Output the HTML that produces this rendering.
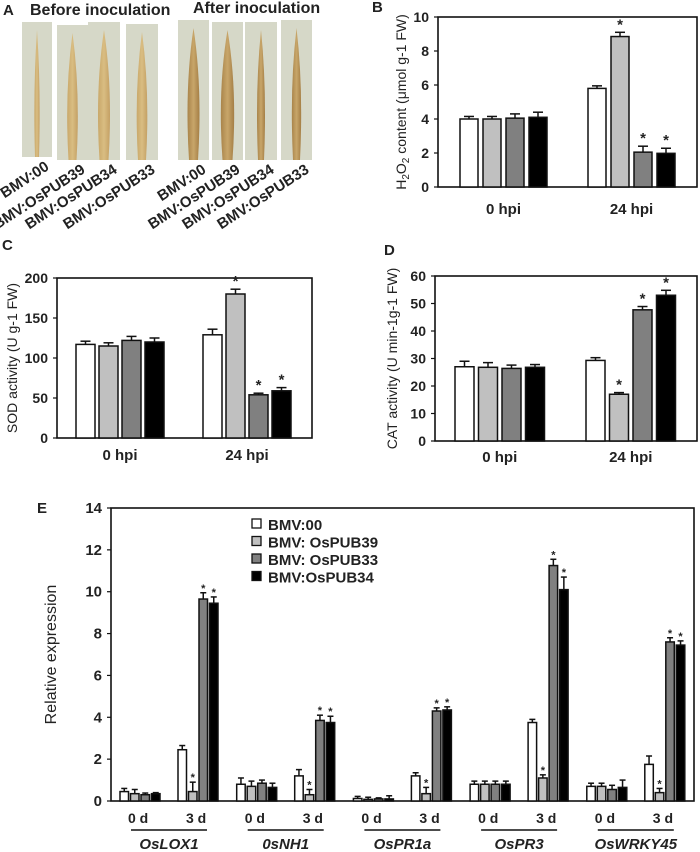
<!DOCTYPE html>
<html><head><meta charset="utf-8"><style>
html,body{margin:0;padding:0;background:#fff;}
svg{display:block;font-family:"Liberation Sans",Arial,sans-serif;}
</style></head><body>
<svg id="fig" width="700" height="852" viewBox="0 0 700 852" xmlns="http://www.w3.org/2000/svg">
<defs>
<linearGradient id="leafA" x1="0" x2="1"><stop offset="0" stop-color="#c9a86a"/><stop offset="0.5" stop-color="#d9bd82"/><stop offset="1" stop-color="#c4a064"/></linearGradient>
<linearGradient id="leafB" x1="0" x2="1"><stop offset="0" stop-color="#a9844a"/><stop offset="0.5" stop-color="#c8a66a"/><stop offset="1" stop-color="#a47e45"/></linearGradient>
</defs>
<g id="panelA"></g>
<g id="panelB"></g>
<g id="panelC"></g>
<g id="panelD"></g>
<g id="panelE"></g>
</svg>
<script>
const NS="http://www.w3.org/2000/svg";
const fills=["#ffffff","#c0c0c0","#808080","#000000"];
const seriesNames=["bmv-00","bmv-ospub39","bmv-ospub33","bmv-ospub34"];
// Panel B data
const bGroups=["0 hpi","24 hpi"];
const bVals0=[4.0,4.0,4.05,4.1];
const bErr0=[0.15,0.15,0.25,0.3];
const bVals24=[5.8,8.85,2.05,1.98];
const bErr24=[0.15,0.25,0.35,0.3];
const bStars24=[0,1,1,1];
const bTicks=[0,2,4,6,8,10];
// Panel C data
const cVals0=[117,115,122,120];
const cErr0=[4,4,5,5];
const cVals24=[129,180,54,59];
const cErr24=[7,6,2,4];
const cStars24=[0,1,1,1];
const cTicks=[0,50,100,150,200];
// Panel D data
const dVals0=[27,26.8,26.4,26.8];
const dErr0=[2,1.7,1.2,1];
const dVals24=[29.3,17,47.7,53];
const dErr24=[1,0.6,1.2,1.8];
const dStars24=[0,1,1,1];
const dTicks=[0,10,20,30,40,50,60];
// Panel E data
const eGenes=["OsLOX1","0sNH1","OsPR1a","OsPR3","OsWRKY45"];
const eVals0=[[0.45,0.35,0.3,0.35],[0.8,0.7,0.85,0.65],[0.12,0.08,0.1,0.1],[0.8,0.8,0.8,0.8],[0.7,0.7,0.55,0.65]];
const eErr0=[[0.15,0.2,0.08,0.05],[0.3,0.25,0.15,0.2],[0.1,0.1,0.05,0.15],[0.15,0.15,0.15,0.15],[0.15,0.15,0.2,0.35]];
const eVals3=[[2.45,0.45,9.65,9.45],[1.2,0.3,3.85,3.75],[1.2,0.35,4.3,4.35],[3.75,1.1,11.25,10.1],[1.75,0.4,7.6,7.45]];
const eErr3=[[0.2,0.45,0.3,0.3],[0.3,0.25,0.25,0.3],[0.15,0.3,0.15,0.15],[0.15,0.15,0.3,0.6],[0.4,0.2,0.2,0.2]];
const eStars3=[0,1,1,1];
const eTicks=[0,2,4,6,8,10,12,14];
const legendLabels=["BMV:00","BMV: OsPUB39","BMV: OsPUB33","BMV:OsPUB34"];

function el(parent,tag,attrs,text){const e=document.createElementNS(NS,tag);for(const k in attrs)e.setAttribute(k,attrs[k]);if(text!==undefined)e.textContent=text;parent.appendChild(e);return e;}

function barChart(g,o){
  const y=v=>o.bottom-(v-0)/(o.max)*(o.bottom-o.top);
  const fr=el(g,"rect",{x:o.left,y:o.top,width:o.right-o.left,height:o.bottom-o.top,fill:"none",stroke:"#111","stroke-width":1.6});
  
  
  o.ticks.forEach(t=>{
    const tl=el(g,"line",{x1:o.left-4,x2:o.left,y1:y(t),y2:y(t),stroke:"#111","stroke-width":1.2});
    
    
    const tx=el(g,"text",{x:o.left-9,y:y(t)+5,"text-anchor":"end","font-size":o.tfs||14,"font-weight":"bold",fill:"#222"},String(t));
    
    
  });
  const yt=el(g,"text",{transform:`translate(${o.ytx},${(o.top+o.bottom)/2}) rotate(-90)`,"text-anchor":"middle","font-size":o.yfs||14,fill:"#222"});
  yt.innerHTML=o.ytitle;
  
  
  const lbl=el(g,"text",{x:o.lx,y:o.ly,"font-size":15,"font-weight":"bold",fill:"#222"},o.letter);
  
  
  o.groups.forEach((grp,gi)=>{
    const x0=o.gx[gi];
    grp.vals.forEach((v,i)=>{
      const bx=x0+i*o.step;
      const r=el(g,"rect",{x:bx,y:y(v),width:o.bw,height:o.bottom-y(v),fill:fills[i],stroke:"#111","stroke-width":1.5});
      
      
      const cx=bx+o.bw/2, ye=y(v+grp.err[i]);
      const e1=el(g,"line",{x1:cx,x2:cx,y1:y(v),y2:ye,stroke:"#111","stroke-width":1.5});
      
      
      const e2=el(g,"line",{x1:cx-o.cap,x2:cx+o.cap,y1:ye,y2:ye,stroke:"#111","stroke-width":1.5});
      
      
      if(grp.stars&&grp.stars[i]){
        const s=el(g,"text",{x:cx,y:ye-3+(o.starOff||0),"text-anchor":"middle","font-size":o.sfs||15,"font-weight":"bold",fill:"#222"},"*");
        
        
      }
    });
    if(o.gnames&&o.glabelY){
      const t=el(g,"text",{x:x0+(3*o.step+o.bw)/2,y:o.glabelY,"text-anchor":"middle","font-size":15,"font-weight":"bold",fill:"#222"},o.gnames[gi]);
      
      
    }
  });
  return y;
}

// Panel A
(function(){
  const g=document.getElementById("panelA");
  const t=[["A",3,15,15],["Before inoculation",30,15,16],["After inoculation",193,13,16]];
  t.forEach((a,i)=>{const e=el(g,"text",{x:a[1],y:a[2],"font-size":a[3],"font-weight":"bold",fill:"#222"},a[0]);
    
    });
  const photos=[[22,22,30,135,"leafA",4],[57,25,31,135,"leafA",8],[88,22,32,138,"leafA",9],[126,24,32,136,"leafA",8],
                [178,20,31,140,"leafB",9],[212,22,31,138,"leafB",10],[245,22,32,138,"leafB",6],[281,20,31,140,"leafB",7]];
  const names=["BMV:00","BMV:OsPUB39","BMV:OsPUB34","BMV:OsPUB33"];
  photos.forEach((p,i)=>{
    const r=el(g,"rect",{x:p[0],y:p[1],width:p[2],height:p[3],fill:"#d6d8c8"});
    
    
    const cx=p[0]+p[2]/2,top=p[1]+8,bot=p[1]+p[3];
    const lf=el(g,"path",{d:`M${cx} ${top} Q${cx+p[5]} ${top+60} ${cx+p[5]/2} ${bot} L${cx-p[5]/2} ${bot} Q${cx-p[5]} ${top+60} ${cx} ${top}Z`,fill:`url(#${p[4]})`});
    
    
  });
  photos.forEach((p,i)=>{
    const lx=p[0]+p[2]-2, ly=p[1]+p[3]+12;
    const lt=el(g,"text",{x:lx,y:ly,"text-anchor":"end","font-size":15,"font-weight":"bold",fill:"#222",transform:`rotate(-33 ${lx} ${ly})`},names[i%4]);
    
    
  });
})();

// Panel B
barChart(document.getElementById("panelB"),{left:438,right:697,top:17,bottom:187,max:10,ticks:bTicks,
  ytitle:'H<tspan font-size="10" dy="3">2</tspan><tspan dy="-3">O</tspan><tspan font-size="10" dy="3">2</tspan><tspan dy="-3"> content (μmol g-1 FW)</tspan>',ytx:406,
  letter:"B",lx:372,ly:12,gx:[460,588],step:23,bw:18,cap:5,gnames:bGroups,glabelY:214,
  groups:[{vals:bVals0,err:bErr0},{vals:bVals24,err:bErr24,stars:bStars24}]});
// Panel C
barChart(document.getElementById("panelC"),{left:57,right:312,top:278,bottom:438,max:200,ticks:cTicks,
  ytitle:'SOD activity (U g-1 FW)',ytx:17,letter:"C",lx:2,ly:250,gx:[76,203],step:23,bw:19,cap:5,gnames:bGroups,glabelY:460,
  groups:[{vals:cVals0,err:cErr0},{vals:cVals24,err:cErr24,stars:cStars24}]});
// Panel D
barChart(document.getElementById("panelD"),{left:435,right:697,top:276,bottom:441,max:60,ticks:dTicks,
  ytitle:'CAT activity (U min-1g-1 FW)',ytx:397,letter:"D",lx:384,ly:255,gx:[455,586],step:23.5,bw:19,cap:5,gnames:bGroups,glabelY:462,
  groups:[{vals:dVals0,err:dErr0},{vals:dVals24,err:dErr24,stars:dStars24}]});
// Panel E
(function(){
  const g=document.getElementById("panelE");
  const gx=[],groups=[],gn=[];
  eGenes.forEach((n,i)=>{
    gx.push(120+i*116.7);groups.push({vals:eVals0[i],err:eErr0[i]});gn.push(n+"-0d");
    gx.push(178+i*116.7);groups.push({vals:eVals3[i],err:eErr3[i],stars:eStars3});gn.push(n+"-3d");
  });
  barChart(g,{left:111,right:694,top:508,bottom:801,max:14,ticks:eTicks,tfs:15,yfs:16,
    ytitle:'Relative expression',ytx:56,letter:"E",lx:37,ly:513,gx:gx,step:10.5,bw:8.5,cap:3,gnames:gn,sfs:11,starOff:2,
    groups:groups});
  eGenes.forEach((n,i)=>{
    const x0=120+i*116.7;
    const a=el(g,"text",{x:x0+8,y:823,"font-size":14,"font-weight":"bold",fill:"#222"},"0 d");
    
    
    const b=el(g,"text",{x:x0+66,y:823,"font-size":14,"font-weight":"bold",fill:"#222"},"3 d");
    
    
    const l=el(g,"line",{x1:x0+11,x2:x0+87,y1:830,y2:830,stroke:"#111","stroke-width":1.5});
    
    
    const t=el(g,"text",{x:x0+49,y:849,"text-anchor":"middle","font-size":15,"font-weight":"bold","font-style":"italic",fill:"#222"},n);
    
    
  });
  legendLabels.forEach((n,i)=>{
    const y=519+i*17.5;
    const r=el(g,"rect",{x:252,y:y,width:9,height:9,fill:fills[i],stroke:"#111","stroke-width":1.3});
    
    
    const t=el(g,"text",{x:268,y:y+11,"font-size":15,"font-weight":"bold",fill:"#222"},n);
    
    
  });
})();
</script>
</body></html>
